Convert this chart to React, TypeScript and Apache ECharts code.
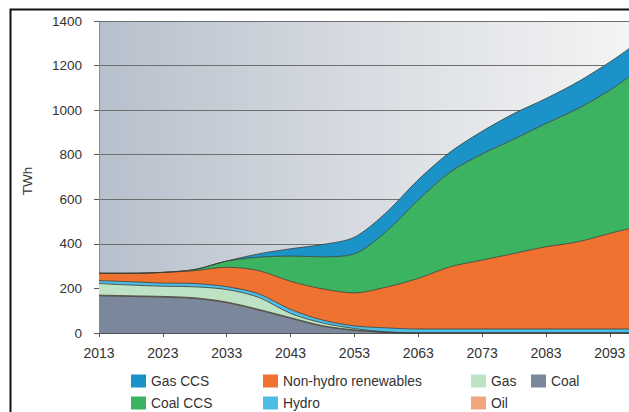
import { useEffect, useRef } from "react";
import * as echarts from "echarts";

// Electricity generation by source, TWh
const FIRST_YEAR = 2013;
const LAST_YEAR = 2096;
const years = [2013, 2018, 2023, 2028, 2033, 2038, 2043, 2048, 2053, 2058, 2063, 2068, 2073, 2078, 2083, 2088, 2093, 2096];
const coal = [167, 164, 161, 155, 136, 103, 66, 30, 12, 3, 0, 0, 0, 0, 0, 0, 0, 0];
const oil = [3, 3, 3, 3, 3, 3, 3, 3, 2, 1, 0, 0, 0, 0, 0, 0, 0, 0];
const gas = [52, 48, 46, 49, 56, 54, 19, 12, 6, 1, 0, 0, 0, 0, 0, 0, 0, 0];
const hydro = [13, 15, 14, 15, 13, 16, 18, 13, 12, 18, 18, 18, 18, 18, 18, 18, 18, 18];
const renewables = [33, 38, 48, 58, 87, 104, 126, 140, 148, 183, 227, 279, 309, 339, 369, 391, 429, 450];
const coalCcs = [0, 0, 0, 5, 28, 60, 113, 144, 175, 250, 352, 425, 476, 513, 553, 598, 642, 681];
const gasCcs = [0, 0, 0, 0, 0, 15, 33, 55, 75, 85, 91, 90, 102, 115, 112, 120, 127, 127];

const yTicks = { min: 0, max: 1400, step: 200 };
const unitLabel = "TWh";

// Bottom-to-top stacking order
const layers = [
  { name: "Coal", values: coal, color: "#7b879b" },
  { name: "Oil", values: oil, color: "#f2a57c" },
  { name: "Gas", values: gas, color: "#bde2c4" },
  { name: "Hydro", values: hydro, color: "#4dbde6" },
  { name: "Non-hydro renewables", values: renewables, color: "#ef7231" },
  { name: "Coal CCS", values: coalCcs, color: "#3bb360" },
  { name: "Gas CCS", values: gasCcs, color: "#1b93c8" },
];

const legendColumns = [
  ["Gas CCS", "Coal CCS"],
  ["Non-hydro renewables", "Hydro"],
  ["Gas", "Oil"],
  ["Coal"],
];

const FONT = "'Liberation Sans', Arial, Helvetica, sans-serif";

export default function App() {
  const ref = useRef<HTMLDivElement>(null);

  useEffect(() => {
    if (!ref.current) return;
    const chart = echarts.init(ref.current, null, { renderer: "svg" });

    const legendX = [131, 263, 471, 531];

    chart.setOption({
      animation: false,
      textStyle: { fontFamily: FONT },
      grid: {
        left: 99,
        top: 21,
        right: 0,
        bottom: 79,
        show: true,
        borderWidth: 0,
        backgroundColor: new echarts.graphic.LinearGradient(0, 0, 1, 0, [
          { offset: 0, color: "#b6c0cc" },
          { offset: 0.5, color: "#d8dce2" },
          { offset: 1, color: "#f4f4f4" },
        ]),
      },
      xAxis: {
        type: "value",
        min: 0,
        max: LAST_YEAR - FIRST_YEAR,
        interval: 10,
        axisLine: { show: true, lineStyle: { color: "#555", width: 1 } },
        axisTick: { show: true, length: 4, lineStyle: { color: "#555" } },
        splitLine: { show: false },
        axisLabel: {
          color: "#333",
          fontSize: 14,
          margin: 13,
          showMaxLabel: false,
          formatter: (v: number) => String(FIRST_YEAR + v),
        },
      },
      yAxis: {
        type: "value",
        min: yTicks.min,
        max: yTicks.max,
        interval: yTicks.step,
        axisLine: { show: true, lineStyle: { color: "#8a8f96", width: 1 } },
        axisTick: { show: true, length: 5, lineStyle: { color: "#555" } },
        splitLine: { show: true, lineStyle: { color: "#6e6e6e", width: 1 } },
        axisLabel: {
          color: "#333",
          fontSize: 13.5,
          margin: 17,
          formatter: (v: number) => String(v),
        },
      },
      legend: legendColumns.map((col, i) => ({
        orient: "vertical",
        left: legendX[i],
        top: 374,
        padding: 0,
        itemWidth: 15,
        itemHeight: 13,
        itemGap: 8,
        icon: "rect",
        selectedMode: false,
        data: col,
        textStyle: { color: "#333", fontSize: 13.8 },
      })),
      graphic: [
        {
          type: "polyline",
          shape: { points: [[10.5, 412], [10.5, 9.5], [629, 9.5]] },
          style: { stroke: "#111", lineWidth: 2, fill: null },
          silent: true,
        },
        {
          type: "text",
          x: 27,
          y: 181,
          rotation: Math.PI / 2,
          style: {
            text: unitLabel,
            fill: "#333",
            font: `13.5px ${FONT}`,
            textAlign: "center",
            textVerticalAlign: "middle",
          },
          silent: true,
        },
      ],
      // Values come first in each point so the stack is summed on the value
      // dimension; the year offset is mapped to x through encode.
      series: layers.map((layer) => ({
        name: layer.name,
        type: "line",
        stack: "total",
        smooth: 0.3,
        showSymbol: false,
        symbol: "none",
        color: layer.color,
        encode: { x: 1, y: 0 },
        lineStyle: { color: "#3d3d35", width: 0.8 },
        areaStyle: { color: layer.color, opacity: 1 },
        data: years.map((y, i) => [layer.values[i], y - FIRST_YEAR]),
      })),
    });

    return () => chart.dispose();
  }, []);

  return (
    <div
      style={{ position: "absolute", left: 0, top: 0, width: 629, height: 412, background: "#fff" }}
    >
      <div ref={ref} style={{ width: 629, height: 412 }} />
    </div>
  );
}
